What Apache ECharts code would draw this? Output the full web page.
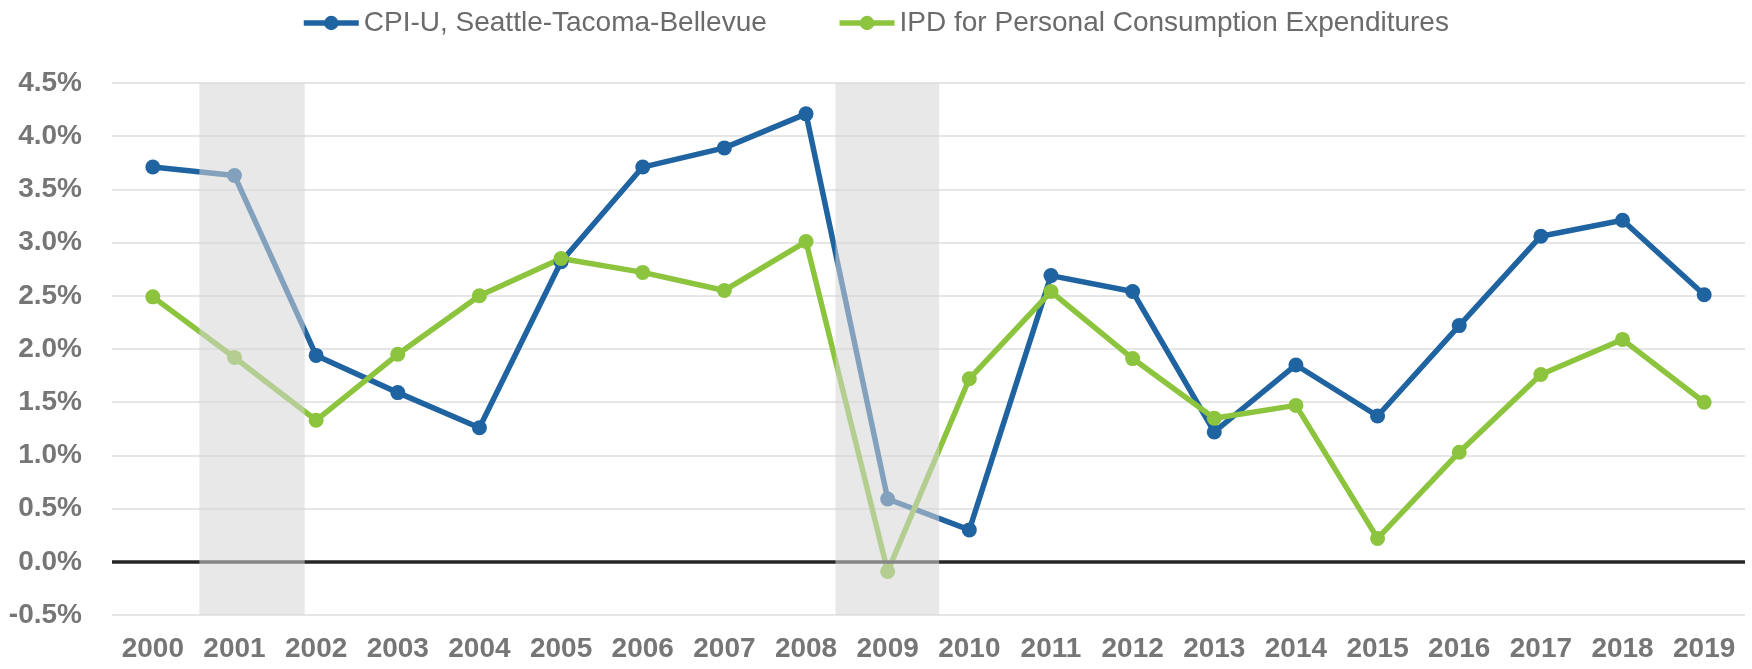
<!DOCTYPE html>
<html>

<head>
    <meta charset="utf-8" />
    <script src="https://cdn.jsdelivr.net/npm/echarts@6/dist/echarts.min.js"></script>
    <style>
        html, body { margin: 0; padding: 0; background: #fff; }
    </style>
</head>

<body>
    <div id="main" style="width: 1752px;height: 669px;"></div>

    <script type="text/javascript">
        var chartDom = document.getElementById('main');
        var myChart = echarts.init(chartDom);
        var option;

        var years = ['2000', '2001', '2002', '2003', '2004', '2005', '2006', '2007', '2008', '2009',
            '2010', '2011', '2012', '2013', '2014', '2015', '2016', '2017', '2018', '2019'];

        // annual change, percent
        var cpiSeattle = [3.71, 3.63, 1.94, 1.59, 1.26, 2.82, 3.71, 3.89, 4.21, 0.59,
            0.30, 2.69, 2.54, 1.22, 1.85, 1.37, 2.22, 3.06, 3.21, 2.51];
        var ipdPce = [2.49, 1.92, 1.33, 1.95, 2.50, 2.85, 2.72, 2.55, 3.01, -0.09,
            1.72, 2.54, 1.91, 1.35, 1.47, 0.22, 1.03, 1.76, 2.09, 1.50];

        // recession bands, in category index units
        var recessions = [[0.57, 1.86], [8.36, 9.63]];

        var yTicks = { min: -0.5, max: 4.5, step: 0.5 };

        var labelColor = '#767676';
        var fontName = 'Liberation Sans';

        option = {
            animation: false,
            backgroundColor: '#fff',
            legend: {
                data: ['CPI-U, Seattle-Tacoma-Bellevue', 'IPD for Personal Consumption Expenditures'],
                left: 296,
                top: 4,
                itemWidth: 55,
                itemHeight: 18,
                itemGap: 70,
                lineStyle: { width: 5.5 },
                textStyle: {
                    fontFamily: fontName,
                    fontSize: 28,
                    color: '#6b6b6b'
                }
            },
            grid: {
                left: 112,
                right: 7,
                top: 83,
                bottom: 54,
                containLabel: false
            },
            xAxis: [
                {
                    type: 'category',
                    data: years,
                    boundaryGap: true,
                    axisLine: { show: false },
                    axisTick: { show: false },
                    axisLabel: {
                        margin: 20,
                        fontFamily: fontName,
                        fontSize: 28,
                        fontWeight: 'bold',
                        color: labelColor,
                        interval: 0
                    },
                    splitLine: { show: false }
                },
                {
                    type: 'value',
                    min: -0.5,
                    max: years.length - 0.5,
                    show: false
                }
            ],
            yAxis: {
                type: 'value',
                min: yTicks.min,
                max: yTicks.max,
                interval: yTicks.step,
                axisLine: { show: false },
                axisTick: { show: false },
                axisLabel: {
                    margin: 30,
                    fontFamily: fontName,
                    fontSize: 28,
                    fontWeight: 'bold',
                    color: labelColor,
                    formatter: function (v) { return v.toFixed(1) + '%'; }
                },
                splitLine: {
                    lineStyle: { color: '#e6e6e6', width: 2 }
                }
            },
            series: [
                {
                    name: 'zero',
                    type: 'line',
                    xAxisIndex: 1,
                    data: [],
                    z: 1,
                    silent: true,
                    markLine: {
                        silent: true,
                        symbol: 'none',
                        label: { show: false },
                        lineStyle: { color: '#262626', width: 3.5, type: 'solid' },
                        data: [{ yAxis: 0 }]
                    }
                },
                {
                    name: 'CPI-U, Seattle-Tacoma-Bellevue',
                    type: 'line',
                    data: cpiSeattle,
                    symbol: 'circle',
                    symbolSize: 15,
                    z: 3,
                    itemStyle: { color: '#1f63a0' },
                    lineStyle: { color: '#1f63a0', width: 5.5 }
                },
                {
                    name: 'IPD for Personal Consumption Expenditures',
                    type: 'line',
                    data: ipdPce,
                    symbol: 'circle',
                    symbolSize: 15,
                    z: 3,
                    itemStyle: { color: '#8cc43e' },
                    lineStyle: { color: '#8cc43e', width: 5.5 }
                },
                {
                    // grey bands laid over the lines
                    name: 'recession',
                    type: 'line',
                    xAxisIndex: 1,
                    data: [],
                    z: 10,
                    silent: true,
                    markArea: {
                        z: 10,
                        silent: true,
                        itemStyle: { color: 'rgba(214,214,214,0.55)' },
                        data: recessions.map(function (r) {
                            return [{ xAxis: r[0] }, { xAxis: r[1] }];
                        })
                    }
                }
            ]
        };

        option && myChart.setOption(option);

    </script>
</body>
</html>
